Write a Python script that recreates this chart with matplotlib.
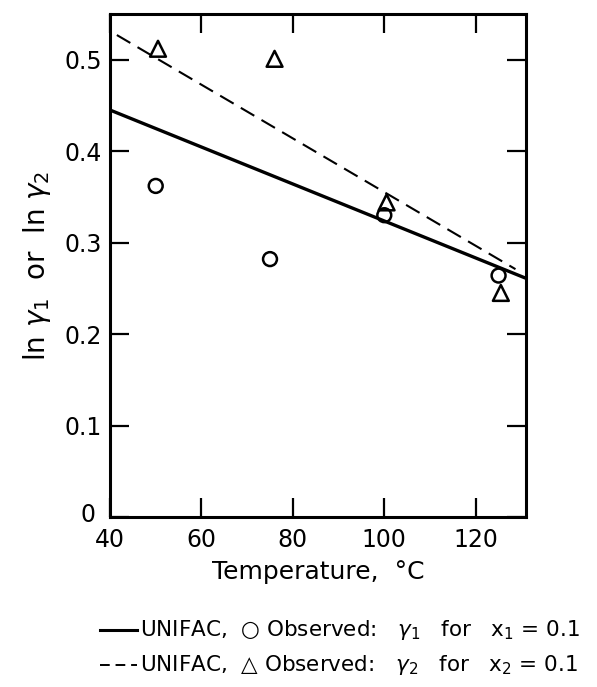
import numpy as np
import matplotlib.pyplot as plt
import matplotlib.transforms as mtransforms
from matplotlib.lines import Line2D

# Datos observados
temp_obs = [50, 75, 100, 125]
ln_g1_obs = [0.362, 0.282, 0.330, 0.264]
temp_obs2 = [50.5, 76, 100.5, 125.5]
ln_g2_obs = [0.512, 0.501, 0.344, 0.245]

# Predicciones UNIFAC (extremos de las rectas)
temp_uni1 = [40, 131]
ln_g1_uni = [0.445, 0.261]
temp_uni2 = [41.5, 128.7]
ln_g2_uni = [0.527, 0.271]

plt.rcParams['font.family'] = ['DejaVu Sans']

fig = plt.figure(figsize=(5.97, 6.87), dpi=100)
ax = fig.add_axes([110/597, 1-517/687, 416/597, 503/687])

ax.plot(temp_uni1, ln_g1_uni, '-k', lw=2.4, solid_capstyle='butt')
ax.plot(temp_uni2, ln_g2_uni, '--k', lw=1.5, dashes=(7.5, 4))
ax.scatter(temp_obs, ln_g1_obs, s=100, facecolors='none', edgecolors='k', linewidths=1.8, zorder=3)
ax.scatter(temp_obs2, ln_g2_obs, s=130, marker='^', facecolors='none', edgecolors='k', linewidths=1.8, zorder=3)

ax.set_xlim(40, 131)
ax.set_ylim(0, 0.55)
ax.set_xticks([40, 60, 80, 100, 120])
ax.set_yticks([0, 0.1, 0.2, 0.3, 0.4, 0.5])
ax.set_yticklabels(['0', '0.1', '0.2', '0.3', '0.4', '0.5'])
ax.tick_params(direction='in', length=14, width=1.6, labelsize=17, top=True, right=True, pad=6)
ax.tick_params(axis='x', pad=8)
for s in ax.spines.values():
    s.set_linewidth(2.2)

# el "0" del eje y un poco a la izquierda y arriba, como en el original
lbl0 = ax.get_yticklabels()[0]
lbl0.set_transform(lbl0.get_transform() + mtransforms.ScaledTranslation(-6/100, 4/100, fig.dpi_scale_trans))

ax.set_xlabel('Temperature,  °C', fontsize=18, labelpad=6)
ax.set_ylabel(r'ln $\gamma_1$  or  ln $\gamma_2$', fontsize=20, labelpad=8)

# Leyenda debajo
fig.add_artist(Line2D([100/597, 137/597], [1-630/687, 1-630/687], color='k', lw=2.2))
fig.add_artist(Line2D([100/597, 137/597], [1-665/687, 1-665/687], color='k', lw=1.4, ls=(0, (5, 3))))
fig.text(140/597, 1-630/687, 'UNIFAC,  \u25cb Observed:   $\\gamma_1$   for   x$_1$ = 0.1',
         fontsize=15.5, va='center', ha='left')
fig.text(140/597, 1-665/687, 'UNIFAC,  \u25b3 Observed:   $\\gamma_2$   for   x$_2$ = 0.1',
         fontsize=15.5, va='center', ha='left')

fig.savefig('out.png', dpi=100)
